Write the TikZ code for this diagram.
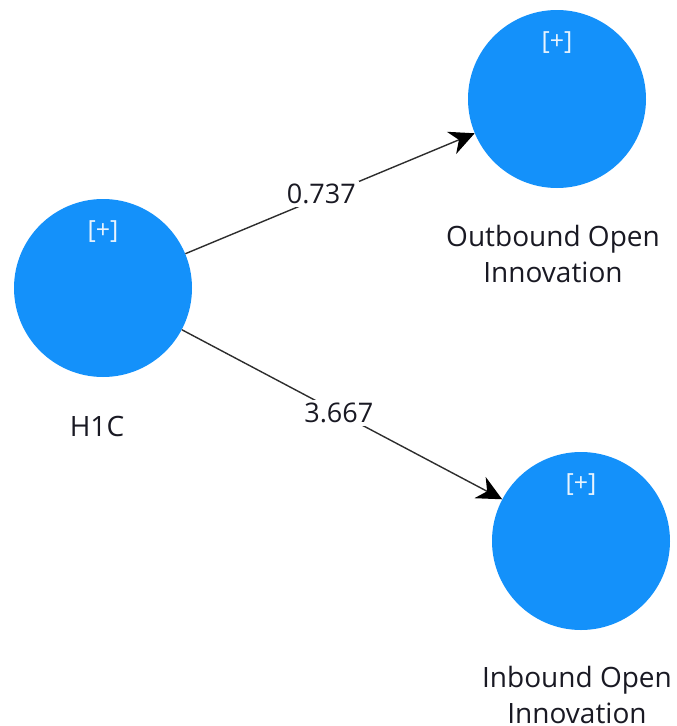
\documentclass[tikz,border=0pt]{standalone}
\usepackage{fontspec}
\setmainfont{Open Sans}
\usetikzlibrary{arrows.meta}
\definecolor{lvblue}{RGB}{20,145,250}
\definecolor{pathgray}{RGB}{45,45,45}
\definecolor{textdark}{RGB}{25,25,35}

\tikzset{
  latent/.style={circle,fill=lvblue,minimum size=178pt,inner sep=0pt},
  plus/.style={text=white!90!lvblue,inner sep=0pt,font=\fontsize{25}{28}\selectfont},
  lvname/.style={align=center,text=textdark,font=\fontsize{28}{36}\selectfont},
  coef/.style={fill=white,inner sep=3pt,text=textdark,font=\fontsize{27}{32}\selectfont},
  relpath/.style={line width=1.4pt,pathgray,-{Stealth[length=25pt,width=24pt,inset=8pt,black]}}
}

\begin{document}
\begin{tikzpicture}[x=1pt,y=-1pt]
  \useasboundingbox (0,0) rectangle (677,726);

  % latent variables
  \node[latent] (h1c) at (103,288) {};
  \node[latent] (ooi) at (557,99) {};
  \node[latent] (ioi) at (581,541) {};

  \node[plus] (h1cplus) at ([yshift=56pt]h1c.center) {[+]};
  \node[plus] (ooiplus) at ([yshift=56pt]ooi.center) {[+]};
  \node[plus] (ioiplus) at ([yshift=56pt]ioi.center) {[+]};

  % names under the circles
  \node[lvname] (h1cname) at (97,426) {H1C};
  \node[lvname] (ooiname) at (553,254) {Outbound Open\\Innovation};
  \node[lvname] (ioiname) at (577,695) {Inbound Open\\Innovation};

  % path coefficients
  \draw[relpath] (h1c) -- node[coef,pos=0.47,yshift=3pt] (c1) {0.737} (ooi);
  \draw[relpath] (h1c) -- node[coef,pos=0.49] (c2) {3.667} (ioi);
\end{tikzpicture}
\end{document}
